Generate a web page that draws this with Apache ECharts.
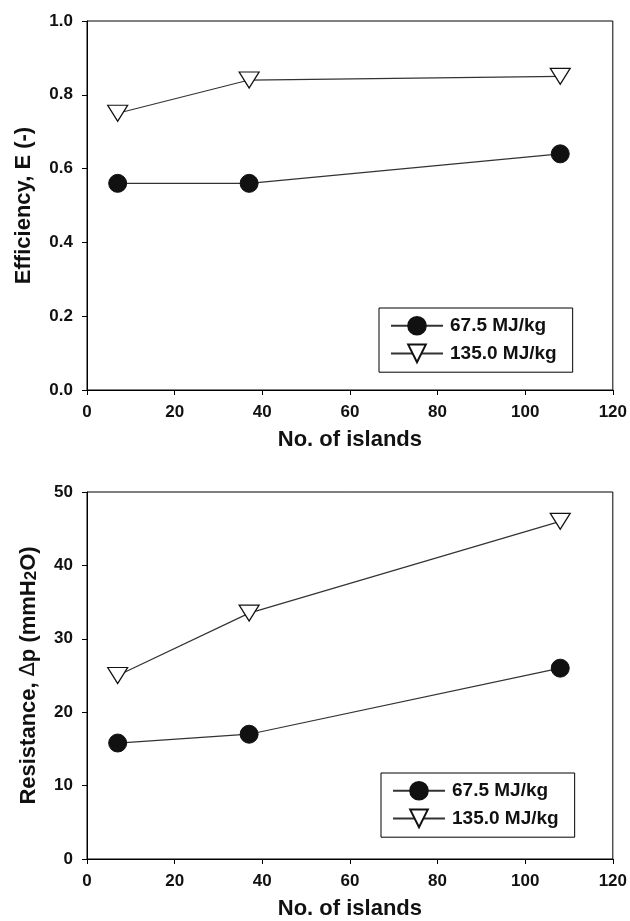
<!DOCTYPE html>
<html>
<head>
<meta charset="utf-8">
<script src="https://cdn.jsdelivr.net/npm/echarts@6/dist/echarts.min.js"></script>
<style>
    html, body { margin: 0; padding: 0; background: #fff; }
    #main { width: 630px; height: 921px; }
</style>
</head>
<body>
<div id="main"></div>
<script>
// x positions (No. of islands)
var islands = [7, 37, 108];
var seriesNames = ['67.5 MJ/kg', '135.0 MJ/kg'];
// efficiency E (-)
var eff675 = [0.56, 0.56, 0.64];
var eff1350 = [0.75, 0.84, 0.85];
// resistance, mmH2O
var res675 = [15.8, 17.0, 26.0];
var res1350 = [25.0, 33.5, 46.0];
// tick labels
var xTicks = [0, 20, 40, 60, 80, 100, 120];
var effTicks = [0.0, 0.2, 0.4, 0.6, 0.8, 1.0];
var resTicks = [0, 10, 20, 30, 40, 50];

var font = "'Liberation Sans', Arial, Helvetica, sans-serif";
var triangle = 'path://M0,0L20,0L10,16Z';

// pair x values with y values
var pairs = function (ys) {
    var out = [];
    islands.forEach(function (x, i) {
        out.push([x, ys[i]]);
    });
    return out;
};

var xAxisFor = function (gridIndex) {
    return {
        type: 'value',
        gridIndex: gridIndex,
        min: xTicks[0],
        max: xTicks[xTicks.length - 1],
        interval: xTicks[1] - xTicks[0],
        name: 'No. of islands',
        nameLocation: 'middle',
        nameGap: 39,
        nameTextStyle: { fontFamily: font, fontWeight: 'bold', fontSize: 22, color: '#111' },
        axisLine: { lineStyle: { color: '#000', width: 1 } },
        axisTick: { show: true, inside: false, length: 5, lineStyle: { color: '#000' } },
        axisLabel: { margin: 14, fontFamily: font, fontWeight: 'bold', fontSize: 17, color: '#111' },
        splitLine: { show: false }
    };
};

var yAxisFor = function (gridIndex, ticks, digits, name, gap, rich) {
    return {
        type: 'value',
        gridIndex: gridIndex,
        min: ticks[0],
        max: ticks[ticks.length - 1],
        interval: ticks[1] - ticks[0],
        name: name,
        nameLocation: 'middle',
        nameRotate: 90,
        nameGap: gap,
        nameTextStyle: { fontFamily: font, fontWeight: 'bold', fontSize: 22, color: '#111', rich: rich },
        axisLine: { show: true, lineStyle: { color: '#000', width: 1 } },
        axisTick: { show: true, inside: false, length: 5, lineStyle: { color: '#000' } },
        axisLabel: {
            margin: 14, fontFamily: font, fontWeight: 'bold', fontSize: 17, color: '#111',
            formatter: function (v) { return v.toFixed(digits); }
        },
        splitLine: { show: false }
    };
};

var circleSeries = function (idx, ys) {
    return {
        name: seriesNames[0],
        type: 'line',
        xAxisIndex: idx,
        yAxisIndex: idx,
        data: pairs(ys),
        symbol: 'circle',
        symbolSize: 18,
        itemStyle: { color: '#111', borderColor: '#111', borderWidth: 1 },
        lineStyle: { color: '#333', width: 1.2 },
        z: 3
    };
};

var triSeries = function (idx, ys) {
    return {
        name: seriesNames[1],
        type: 'line',
        xAxisIndex: idx,
        yAxisIndex: idx,
        data: pairs(ys),
        symbol: triangle,
        symbolSize: [20, 16],
        itemStyle: { color: '#fff', borderColor: '#111', borderWidth: 1.2 },
        lineStyle: { color: '#333', width: 1.2 },
        z: 3
    };
};

var legendFor = function (left, top) {
    return {
        data: seriesNames,
        orient: 'vertical',
        left: left,
        top: top,
        itemWidth: 52,
        itemHeight: 22,
        itemGap: 8,
        padding: [8, 16, 9, 11],
        borderColor: '#000',
        borderWidth: 1,
        backgroundColor: '#fff',
        selectedMode: false,
        textStyle: { fontFamily: font, fontWeight: 'bold', fontSize: 19, color: '#111', padding: [0, 0, 0, 2] }
    };
};

var myChart = echarts.init(document.getElementById('main'), null, { renderer: 'canvas' });

var option = {
    animation: false,
    backgroundColor: '#fff',
    grid: [
        { left: 87, right: 15, top: 21, height: 369, show: true, borderColor: '#000', borderWidth: 1, backgroundColor: 'transparent' },
        { left: 87, right: 15, top: 492, height: 368, show: true, borderColor: '#000', borderWidth: 1, backgroundColor: 'transparent' }
    ],
    legend: [legendFor(379, 308), legendFor(381, 773)],
    xAxis: [xAxisFor(0), xAxisFor(1)],
    yAxis: [
        yAxisFor(0, effTicks, 1, 'Efficiency, E (-)', 52),
        yAxisFor(1, resTicks, 0, 'Resistance, {d|∆}p (mmH{s|2}O)', 47, {
            d: { fontFamily: "'DejaVu Sans', sans-serif", fontWeight: 'normal', fontSize: 21, color: '#111' },
            s: { fontFamily: font, fontWeight: 'bold', fontSize: 17, color: '#111', verticalAlign: 'bottom' }
        })
    ],
    series: [
        circleSeries(0, eff675),
        triSeries(0, eff1350),
        circleSeries(1, res675),
        triSeries(1, res1350)
    ]
};

myChart.setOption(option);
</script>
</body>
</html>
